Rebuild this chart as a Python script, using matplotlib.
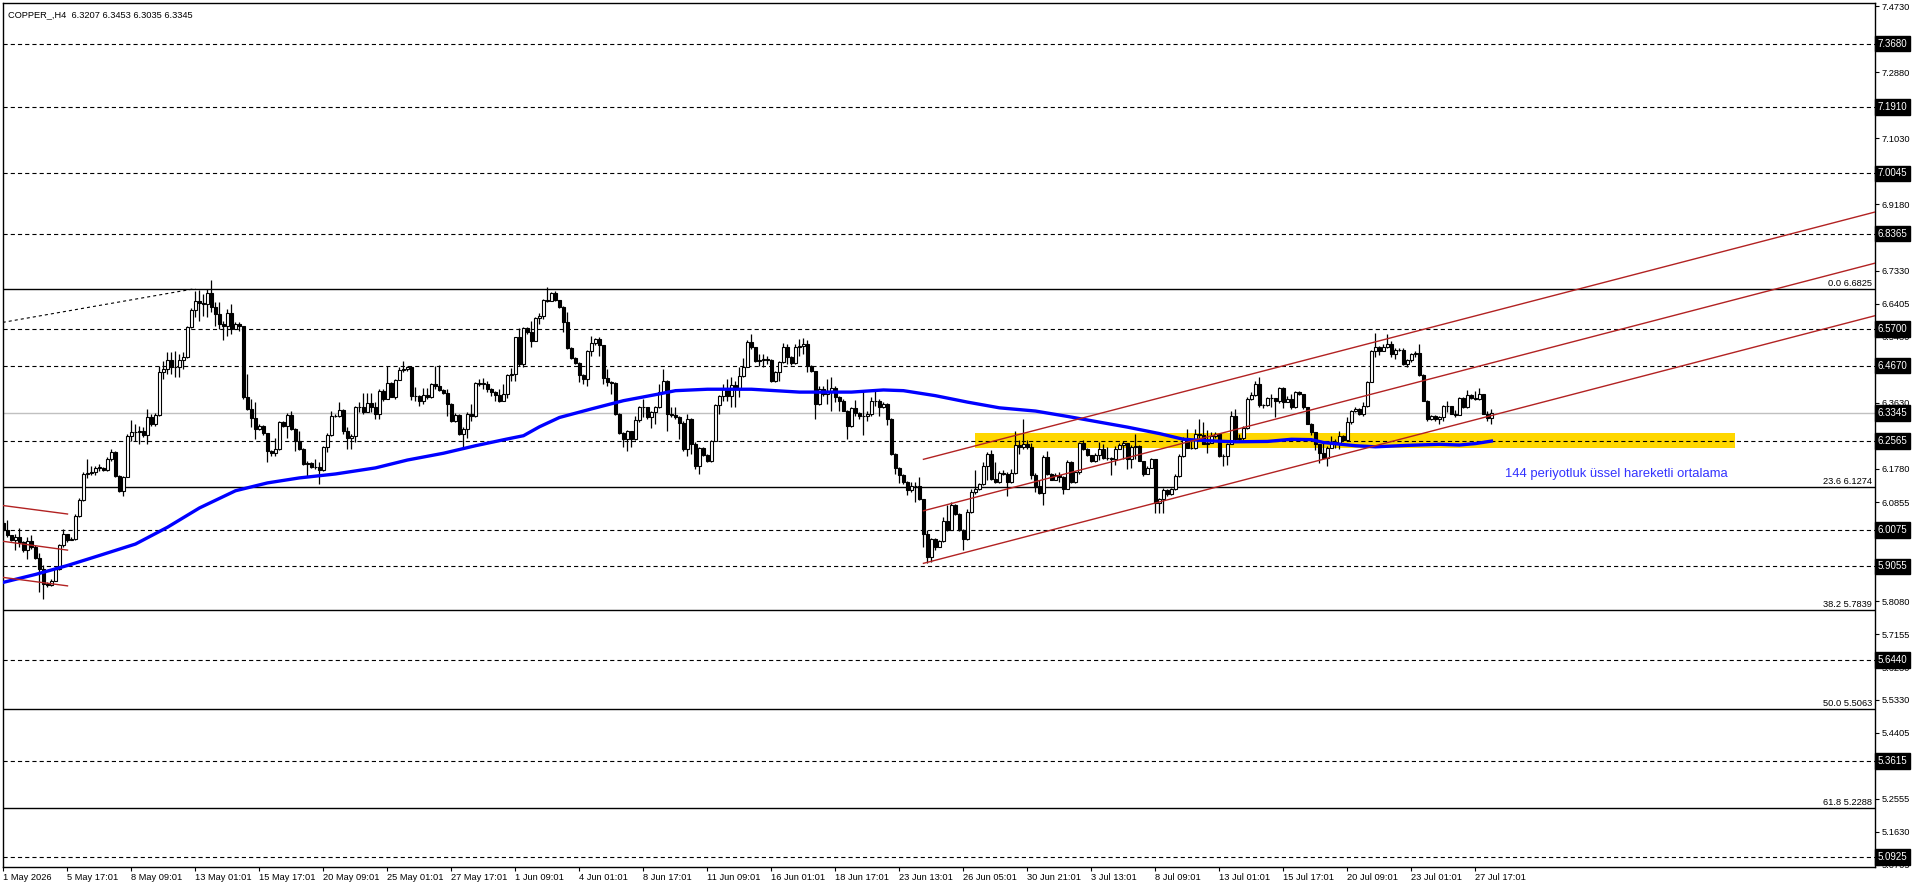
import matplotlib
matplotlib.use("Agg")
import matplotlib.pyplot as plt
import matplotlib.transforms as mtransforms
import numpy as np

plt.rcParams['font.family'] = ['Liberation Sans', 'DejaVu Sans']
plt.rcParams['lines.scale_dashes'] = False

# ---------------- data ----------------
title_text = "COPPER_,H4  6.3207 6.3453 6.3035 6.3345"

first_open = 6.026
closes = [
    6.007, 5.992, 5.979, 5.989, 5.973, 5.950, 5.976, 5.959, 5.929, 5.898,
    5.856, 5.854, 5.866, 5.898, 5.964, 5.996, 5.979, 5.983, 6.047, 6.091,
    6.164, 6.167, 6.169, 6.181, 6.181, 6.175, 6.206, 6.225, 6.159, 6.117,
    6.155, 6.271, 6.280, 6.282, 6.283, 6.274, 6.322, 6.304, 6.330, 6.448,
    6.458, 6.483, 6.464, 6.462, 6.483, 6.492, 6.574, 6.623, 6.649, 6.642,
    6.639, 6.669, 6.632, 6.611, 6.583, 6.579, 6.613, 6.569, 6.583, 6.579,
    6.378, 6.346, 6.320, 6.290, 6.299, 6.278, 6.227, 6.222, 6.234, 6.308,
    6.299, 6.330, 6.290, 6.257, 6.234, 6.192, 6.195, 6.184, 6.183, 6.175,
    6.239, 6.274, 6.325, 6.327, 6.343, 6.283, 6.266, 6.269, 6.350, 6.350,
    6.336, 6.362, 6.352, 6.332, 6.397, 6.374, 6.418, 6.380, 6.428, 6.456,
    6.459, 6.462, 6.381, 6.383, 6.367, 6.385, 6.378, 6.416, 6.409, 6.400,
    6.390, 6.360, 6.311, 6.330, 6.276, 6.290, 6.332, 6.325, 6.418, 6.416,
    6.416, 6.402, 6.392, 6.385, 6.367, 6.388, 6.442, 6.444, 6.546, 6.472,
    6.571, 6.560, 6.537, 6.600, 6.607, 6.650, 6.649, 6.669, 6.650, 6.630,
    6.588, 6.516, 6.488, 6.474, 6.442, 6.430, 6.509, 6.529, 6.541, 6.526,
    6.432, 6.420, 6.418, 6.332, 6.279, 6.262, 6.283, 6.262, 6.315, 6.350,
    6.352, 6.322, 6.336, 6.350, 6.392, 6.425, 6.332, 6.330, 6.322, 6.306,
    6.234, 6.318, 6.248, 6.187, 6.237, 6.217, 6.201, 6.257, 6.357, 6.383,
    6.402, 6.383, 6.413, 6.402, 6.439, 6.464, 6.532, 6.519, 6.479, 6.484,
    6.484, 6.483, 6.425, 6.450, 6.477, 6.519, 6.491, 6.474, 6.519, 6.521,
    6.528, 6.467, 6.451, 6.360, 6.402, 6.388, 6.397, 6.405, 6.379, 6.369,
    6.341, 6.297, 6.349, 6.334, 6.326, 6.325, 6.332, 6.369, 6.367, 6.351,
    6.360, 6.318, 6.220, 6.181, 6.162, 6.141, 6.120, 6.129, 6.129, 6.093,
    5.997, 5.931, 5.983, 5.961, 5.976, 6.032, 6.008, 6.076, 6.052, 6.008,
    5.983, 6.059, 6.113, 6.122, 6.135, 6.185, 6.220, 6.150, 6.141, 6.167,
    6.164, 6.141, 6.167, 6.244, 6.239, 6.248, 6.239, 6.160, 6.129, 6.110,
    6.211, 6.163, 6.148, 6.162, 6.155, 6.122, 6.197, 6.141, 6.169, 6.250,
    6.234, 6.216, 6.200, 6.218, 6.234, 6.209, 6.208, 6.206, 6.234, 6.244,
    6.250, 6.205, 6.240, 6.243, 6.199, 6.165, 6.182, 6.205, 6.084, 6.093,
    6.119, 6.107, 6.121, 6.159, 6.215, 6.264, 6.238, 6.236, 6.277, 6.273,
    6.249, 6.252, 6.270, 6.277, 6.215, 6.213, 6.249, 6.326, 6.261, 6.266,
    6.292, 6.373, 6.385, 6.417, 6.356, 6.357, 6.376, 6.376, 6.367, 6.404,
    6.364, 6.373, 6.350, 6.394, 6.389, 6.350, 6.305, 6.280, 6.247, 6.224,
    6.210, 6.238, 6.252, 6.252, 6.270, 6.258, 6.308, 6.340, 6.345, 6.331,
    6.354, 6.421, 6.508, 6.519, 6.508, 6.520, 6.527, 6.499, 6.510, 6.512,
    6.471, 6.482, 6.499, 6.501, 6.440, 6.368, 6.317, 6.326, 6.317, 6.324,
    6.354, 6.354, 6.333, 6.329, 6.376, 6.350, 6.385, 6.376, 6.373, 6.387,
    6.333, 6.3207, 6.3345,
]
highs = [
    6.032, 6.034, 5.992, 5.996, 6.013, 5.976, 5.987, 5.992, 5.964, 5.942,
    5.908, 5.861, 5.870, 5.903, 5.968, 6.010, 5.991, 5.989, 6.052, 6.097,
    6.169, 6.206, 6.187, 6.187, 6.192, 6.184, 6.211, 6.234, 6.229, 6.162,
    6.159, 6.276, 6.315, 6.304, 6.299, 6.294, 6.346, 6.332, 6.334, 6.467,
    6.481, 6.504, 6.504, 6.509, 6.499, 6.504, 6.579, 6.628, 6.677, 6.678,
    6.667, 6.681, 6.706, 6.644, 6.644, 6.593, 6.625, 6.639, 6.588, 6.588,
    6.572, 6.444, 6.374, 6.364, 6.304, 6.302, 6.278, 6.231, 6.266, 6.313,
    6.311, 6.334, 6.341, 6.292, 6.285, 6.236, 6.199, 6.198, 6.206, 6.197,
    6.241, 6.278, 6.341, 6.332, 6.364, 6.346, 6.294, 6.276, 6.355, 6.364,
    6.390, 6.390, 6.390, 6.364, 6.402, 6.402, 6.467, 6.422, 6.430, 6.462,
    6.481, 6.465, 6.464, 6.408, 6.385, 6.404, 6.404, 6.418, 6.467, 6.469,
    6.403, 6.403, 6.362, 6.334, 6.332, 6.294, 6.336, 6.360, 6.420, 6.430,
    6.432, 6.425, 6.404, 6.397, 6.403, 6.416, 6.444, 6.460, 6.548, 6.572,
    6.574, 6.576, 6.593, 6.602, 6.613, 6.653, 6.688, 6.672, 6.675, 6.652,
    6.635, 6.616, 6.518, 6.492, 6.476, 6.444, 6.511, 6.551, 6.544, 6.546,
    6.516, 6.458, 6.425, 6.420, 6.335, 6.280, 6.287, 6.285, 6.327, 6.355,
    6.374, 6.341, 6.339, 6.355, 6.416, 6.458, 6.427, 6.350, 6.350, 6.327,
    6.311, 6.332, 6.320, 6.253, 6.240, 6.240, 6.220, 6.259, 6.360, 6.386,
    6.416, 6.430, 6.436, 6.425, 6.462, 6.488, 6.539, 6.556, 6.520, 6.500,
    6.500, 6.495, 6.486, 6.453, 6.479, 6.530, 6.528, 6.495, 6.528, 6.542,
    6.545, 6.539, 6.470, 6.453, 6.411, 6.411, 6.430, 6.436, 6.411, 6.383,
    6.374, 6.343, 6.351, 6.371, 6.337, 6.397, 6.341, 6.379, 6.395, 6.374,
    6.365, 6.362, 6.320, 6.222, 6.183, 6.164, 6.143, 6.141, 6.141, 6.155,
    6.094, 6.006, 5.985, 5.985, 5.980, 6.043, 6.076, 6.085, 6.079, 6.054,
    6.011, 6.066, 6.122, 6.174, 6.138, 6.197, 6.225, 6.230, 6.197, 6.172,
    6.174, 6.169, 6.178, 6.283, 6.258, 6.318, 6.258, 6.250, 6.166, 6.146,
    6.216, 6.228, 6.166, 6.166, 6.169, 6.157, 6.202, 6.199, 6.172, 6.253,
    6.259, 6.236, 6.217, 6.222, 6.253, 6.248, 6.239, 6.211, 6.243, 6.250,
    6.256, 6.252, 6.244, 6.275, 6.245, 6.201, 6.187, 6.210, 6.207, 6.098,
    6.126, 6.121, 6.126, 6.163, 6.219, 6.268, 6.289, 6.263, 6.289, 6.317,
    6.308, 6.286, 6.280, 6.280, 6.261, 6.219, 6.252, 6.340, 6.345, 6.275,
    6.298, 6.378, 6.392, 6.424, 6.435, 6.361, 6.380, 6.389, 6.373, 6.407,
    6.406, 6.382, 6.389, 6.396, 6.396, 6.387, 6.352, 6.307, 6.277, 6.249,
    6.257, 6.243, 6.271, 6.261, 6.284, 6.273, 6.322, 6.342, 6.350, 6.348,
    6.364, 6.424, 6.510, 6.557, 6.522, 6.527, 6.555, 6.536, 6.517, 6.516,
    6.515, 6.485, 6.501, 6.508, 6.527, 6.443, 6.370, 6.329, 6.329, 6.326,
    6.357, 6.368, 6.345, 6.342, 6.380, 6.378, 6.398, 6.387, 6.396, 6.404,
    6.389, 6.340, 6.3453,
]
lows = [
    6.004, 5.987, 5.976, 5.950, 5.959, 5.945, 5.926, 5.954, 5.926, 5.833,
    5.814, 5.847, 5.852, 5.864, 5.894, 5.961, 5.973, 5.978, 5.978, 6.045,
    6.089, 6.153, 6.162, 6.162, 6.173, 6.171, 6.173, 6.201, 6.156, 6.113,
    6.101, 6.155, 6.257, 6.257, 6.248, 6.268, 6.248, 6.299, 6.299, 6.327,
    6.430, 6.444, 6.444, 6.434, 6.434, 6.458, 6.488, 6.572, 6.602, 6.593,
    6.607, 6.602, 6.616, 6.579, 6.569, 6.539, 6.551, 6.555, 6.569, 6.565,
    6.374, 6.343, 6.294, 6.262, 6.287, 6.274, 6.197, 6.215, 6.215, 6.231,
    6.296, 6.266, 6.287, 6.229, 6.231, 6.189, 6.155, 6.181, 6.178, 6.136,
    6.173, 6.225, 6.271, 6.322, 6.322, 6.276, 6.234, 6.234, 6.253, 6.336,
    6.332, 6.346, 6.336, 6.318, 6.318, 6.369, 6.406, 6.378, 6.374, 6.427,
    6.448, 6.453, 6.372, 6.367, 6.355, 6.360, 6.375, 6.376, 6.402, 6.397,
    6.388, 6.327, 6.308, 6.308, 6.274, 6.234, 6.266, 6.313, 6.322, 6.409,
    6.402, 6.392, 6.383, 6.369, 6.364, 6.367, 6.376, 6.425, 6.425, 6.467,
    6.462, 6.555, 6.520, 6.535, 6.583, 6.597, 6.644, 6.647, 6.649, 6.628,
    6.560, 6.513, 6.486, 6.472, 6.420, 6.416, 6.411, 6.495, 6.526, 6.495,
    6.416, 6.411, 6.388, 6.330, 6.276, 6.239, 6.229, 6.239, 6.260, 6.308,
    6.322, 6.318, 6.293, 6.304, 6.348, 6.390, 6.285, 6.322, 6.318, 6.262,
    6.229, 6.215, 6.220, 6.178, 6.164, 6.214, 6.197, 6.197, 6.255, 6.332,
    6.369, 6.369, 6.350, 6.352, 6.378, 6.436, 6.488, 6.514, 6.477, 6.467,
    6.464, 6.472, 6.421, 6.421, 6.425, 6.474, 6.472, 6.470, 6.472, 6.495,
    6.500, 6.449, 6.449, 6.318, 6.358, 6.383, 6.360, 6.341, 6.365, 6.341,
    6.339, 6.262, 6.295, 6.327, 6.318, 6.272, 6.313, 6.327, 6.355, 6.327,
    6.349, 6.302, 6.218, 6.164, 6.138, 6.136, 6.104, 6.113, 6.085, 6.090,
    5.959, 5.915, 5.917, 5.952, 5.959, 5.973, 6.004, 6.006, 6.048, 6.004,
    5.952, 5.980, 6.055, 6.108, 6.120, 6.132, 6.146, 6.148, 6.138, 6.138,
    6.160, 6.101, 6.138, 6.164, 6.220, 6.234, 6.234, 6.150, 6.113, 6.108,
    6.076, 6.160, 6.146, 6.146, 6.141, 6.108, 6.122, 6.138, 6.138, 6.164,
    6.231, 6.213, 6.197, 6.197, 6.204, 6.206, 6.204, 6.162, 6.188, 6.234,
    6.206, 6.177, 6.182, 6.205, 6.199, 6.159, 6.163, 6.180, 6.056, 6.056,
    6.056, 6.103, 6.106, 6.119, 6.156, 6.212, 6.236, 6.233, 6.233, 6.266,
    6.247, 6.224, 6.261, 6.266, 6.212, 6.187, 6.189, 6.247, 6.257, 6.257,
    6.259, 6.289, 6.370, 6.382, 6.350, 6.348, 6.353, 6.350, 6.322, 6.362,
    6.348, 6.368, 6.345, 6.348, 6.385, 6.347, 6.303, 6.273, 6.230, 6.196,
    6.208, 6.187, 6.236, 6.238, 6.233, 6.255, 6.255, 6.305, 6.338, 6.329,
    6.326, 6.352, 6.420, 6.491, 6.497, 6.513, 6.517, 6.491, 6.485, 6.508,
    6.469, 6.462, 6.476, 6.492, 6.437, 6.367, 6.312, 6.314, 6.312, 6.303,
    6.311, 6.336, 6.331, 6.324, 6.329, 6.348, 6.348, 6.373, 6.370, 6.370,
    6.331, 6.312, 6.3035,
]

# 144 EMA, read at sample bars
ema_bars = [0, 8, 16, 24, 33, 41, 49, 58, 62, 66, 74, 83, 93, 101, 110, 118,
            126, 130, 134, 139, 147, 155, 164, 168, 176, 187, 199, 212, 220,
            225, 233, 241, 249, 258, 266, 274, 281, 289, 295, 301, 308, 316,
            322, 327, 330, 338, 343, 351, 359, 364, 368, 372]
ema_vals = [5.861, 5.883, 5.908, 5.936, 5.968, 6.015, 6.069, 6.117, 6.128,
            6.139, 6.153, 6.164, 6.181, 6.203, 6.222, 6.243, 6.262, 6.271,
            6.296, 6.322, 6.346, 6.369, 6.388, 6.397, 6.401, 6.401, 6.393,
            6.393, 6.399, 6.397, 6.383, 6.365, 6.349, 6.340, 6.325, 6.309,
            6.295, 6.277, 6.261, 6.257, 6.254, 6.255, 6.261, 6.260, 6.252,
            6.243, 6.240, 6.244, 6.247, 6.245, 6.249, 6.256]

dashed_levels = [7.3680, 7.1910, 7.0045, 6.8365, 6.5700, 6.4670, 6.2565,
                 6.0075, 5.9055, 5.6440, 5.3615, 5.0925]
fib_pcts = ["0.0", "23.6", "38.2", "50.0", "61.8"]
fib_levels = [6.6825, 6.1274, 5.7839, 5.5063, 5.2288]
last_price = 6.3345

axis_ticks = [7.4730, 7.3805, 7.2880, 7.1955, 7.1030, 7.0105, 6.9180, 6.8255,
              6.7330, 6.6405, 6.5480, 6.4555, 6.3630, 6.2705, 6.1780, 6.0855,
              5.9930, 5.9005, 5.8080, 5.7155, 5.6230, 5.5330, 5.4405, 5.3480,
              5.2555, 5.1630, 5.0705]

time_labels = ["1 May 2026", "5 May 17:01", "8 May 09:01", "13 May 01:01",
               "15 May 17:01", "20 May 09:01", "25 May 01:01", "27 May 17:01",
               "1 Jun 09:01", "4 Jun 01:01", "8 Jun 17:01", "11 Jun 09:01",
               "16 Jun 01:01", "18 Jun 17:01", "23 Jun 13:01", "26 Jun 05:01",
               "30 Jun 21:01", "3 Jul 13:01", "8 Jul 09:01", "13 Jul 01:01",
               "15 Jul 17:01", "20 Jul 09:01", "23 Jul 01:01", "27 Jul 17:01"]
bars_per_label = 16

# drawn objects: fib trend line, price channels, support zone
fib_line_bars = [-0.2, 48]
fib_line_prices = [6.588, 6.6825]
left_chan_bars = [-1, 16]
left_chan_start = [6.077, 5.977, 5.876]
left_chan_end = [6.052, 5.951, 5.851]
chan_bars = [230, 468]
chan_start = [5.914, 6.061, 6.205]
chan_end = [6.607, 6.754, 6.897]
zone_bars = [243, 433]
zone_prices = [6.2375, 6.278]
ema_note = "144 periyotluk üssel hareketli ortalama"
ema_note_pos = (375.4, 6.164)

# ---------------- figure ----------------
W, H = 1916, 888
fig = plt.figure(figsize=(W / 100, H / 100), dpi=100)
fig.patch.set_facecolor('white')
ax = fig.add_axes([2.7 / W, (H - 867) / H, (1875 - 2.7) / W, (867 - 3) / H])
ax.set_xlim(-0.2, 467.9)
ax.set_ylim(5.0646, 7.4814)

n = len(closes)
x = np.arange(n)
c = np.array(closes)
o = np.concatenate([[first_open], c[:-1]])
o[-1] = 6.3207
h = np.maximum(np.array(highs), np.maximum(o, c))
l = np.minimum(np.array(lows), np.minimum(o, c))

# zone behind everything
ax.fill_between(zone_bars, zone_prices[0], zone_prices[1], color='#FFD700',
                lw=0, zorder=0.5)

for lv in dashed_levels:
    ax.axhline(lv, color='black', lw=0.8, ls=(0, (3.0, 2.2)), zorder=1)
for lv in fib_levels:
    ax.axhline(lv, color='black', lw=1.0, zorder=1)
ax.axhline(last_price, color='#C0C0C0', lw=1.0, zorder=1)
ax.plot(fib_line_bars, fib_line_prices, color='black', lw=0.8,
        ls=(0, (2.2, 2.2)), zorder=1)

# candles
up = c >= o
ax.vlines(x, l, h, color='black', lw=0.9, zorder=2)
body_lo = np.minimum(o, c)
body_h = np.maximum(np.abs(c - o), 0.0015)
ax.bar(x[up], body_h[up], bottom=body_lo[up], width=0.62, color='white',
       edgecolor='black', linewidth=0.8, zorder=3)
ax.bar(x[~up], body_h[~up], bottom=body_lo[~up], width=0.62, color='black',
       edgecolor='black', linewidth=0.8, zorder=3)

ax.plot(ema_bars, ema_vals, color='#0000FF', lw=2.4, zorder=4,
        solid_joinstyle='miter')

red = '#B22222'
for a, b in zip(left_chan_start, left_chan_end):
    ax.plot(left_chan_bars, [a, b], color=red, lw=1.0, zorder=5)
for a, b in zip(chan_start, chan_end):
    ax.plot(chan_bars, [a, b], color=red, lw=1.0, zorder=5)

ax.text(ema_note_pos[0], ema_note_pos[1], ema_note, color='#3333FF',
        fontsize=9.4, ha='left', va='center', zorder=6)

fs = 6.7
for pct, lv in zip(fib_pcts, fib_levels):
    ax.text(0.9985, lv + 0.003, f"{pct} {lv:.4f}", fontsize=fs, ha='right',
            va='bottom', transform=mtransforms.blended_transform_factory(
                ax.transAxes, ax.transData), zorder=6)

ax.text(0.003, 0.992, title_text, fontsize=fs, ha='left', va='top',
        transform=ax.transAxes)

# axes styling
for s in ax.spines.values():
    s.set_color('black')
    s.set_linewidth(1.0)
ax.yaxis.tick_right()
ax.set_yticks(axis_ticks)
ax.set_yticklabels([f"{t:.4f}" for t in axis_ticks])
ax.tick_params(axis='y', length=3, width=0.8, pad=1.5, labelsize=fs,
               colors='black')
label_bars = [k * bars_per_label for k in range(len(time_labels))]
ax.set_xticks(label_bars)
ax.set_xticklabels(time_labels, ha='left')
ax.tick_params(axis='x', length=3, width=0.8, pad=1.5, labelsize=fs)

# price markers on the right scale (they sit over the scale labels)
mk_tr = mtransforms.blended_transform_factory(ax.transAxes, ax.transData)
for lv in dashed_levels + [last_price]:
    ax.text(1.0013, lv, f"{lv:.4f}", fontsize=fs + 0.3, color='white',
            ha='left', va='center', transform=mk_tr, clip_on=False,
            zorder=10,
            bbox=dict(boxstyle='square,pad=0.28', facecolor='black',
                      edgecolor='black'))

fig.savefig('out.png', dpi=100, facecolor='white')
